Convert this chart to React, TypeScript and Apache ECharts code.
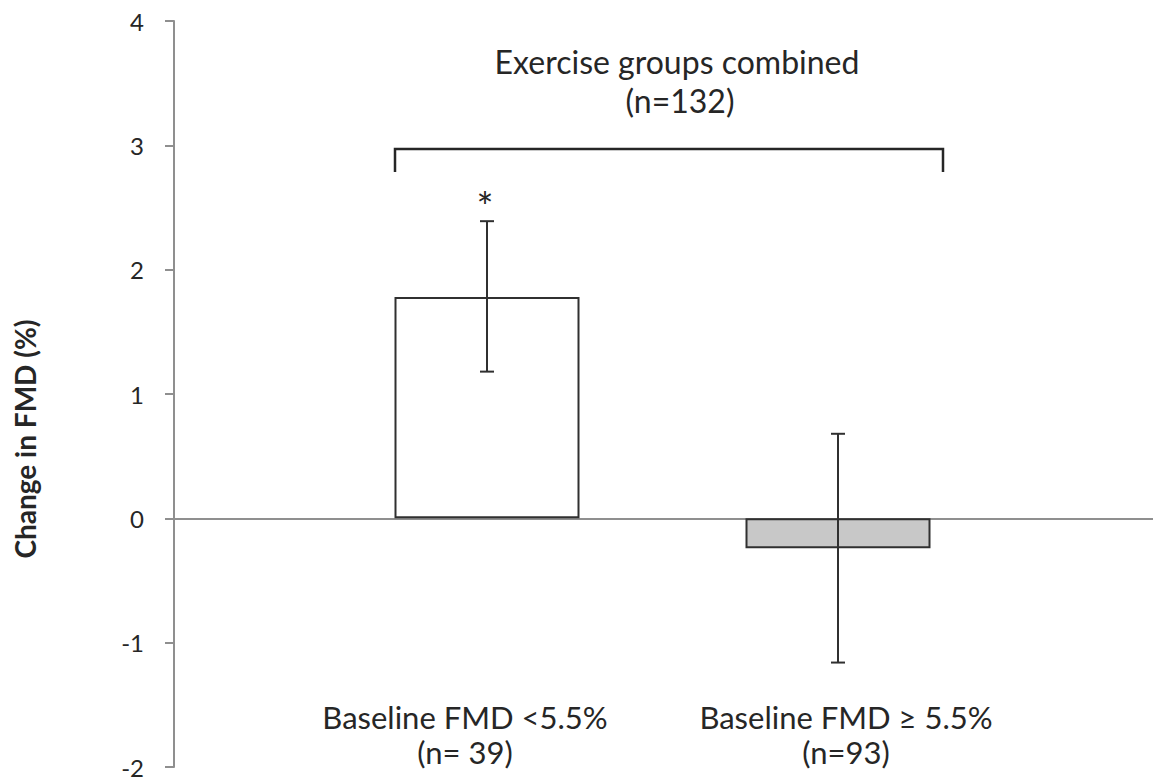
import React, { useEffect, useRef } from "react";
import * as echarts from "echarts";

const categories = ["Baseline FMD <5.5%\n(n= 39)", "Baseline FMD ≥ 5.5%\n(n=93)"];
const meanChange = [1.78, -0.24];
const errLow = [1.18, -1.16];
const errHigh = [2.39, 0.68];
const significance = ["*", ""];
const barFills = ["#ffffff", "#c8c8c8"];
const yMin = -2;
const yMax = 4;
const yInterval = 1;
const yAxisTitle = "Change in FMD (%)";
const groupTitle = "Exercise groups combined";
const groupN = "(n=132)";
const labelShift = [-22, 8];

const FONT = "Lato, 'Open Sans', sans-serif";
const TEXT = "#262626";
const AXIS = "#8f8f8f";

export default function App() {
  const ref = useRef<HTMLDivElement>(null);
  useEffect(() => {
    if (!ref.current) return;
    const chart = echarts.init(ref.current, undefined, { renderer: "svg" });
    const top = 21;
    const bottom = 16;
    const option: any = {
      animation: false,
      backgroundColor: "#ffffff",
      grid: [
        { left: 174, right: 0, top, bottom },
        { left: 311.5, width: 702, top, bottom },
      ],
      xAxis: [
        {
          gridIndex: 0,
          type: "category",
          data: [""],
          axisLine: { show: true, onZero: true, lineStyle: { color: AXIS, width: 2 } },
          axisTick: { show: false },
          axisLabel: { show: false },
        },
        {
          gridIndex: 1,
          type: "category",
          data: categories.map((c, i) => ({
            value: c,
            textStyle: {
              padding: labelShift[i] < 0 ? [0, -2 * labelShift[i], 0, 0] : [0, 0, 0, 2 * labelShift[i]],
            },
          })),
          position: "bottom",
          offset: -68,
          axisLine: { show: false, onZero: false },
          axisTick: { show: false },
          axisLabel: {
            margin: 0,
            interval: 0,
            fontFamily: FONT,
            fontSize: 31,
            lineHeight: 35,
            color: TEXT,
          },
        },
      ],
      yAxis: [
        {
          gridIndex: 0,
          type: "value",
          min: yMin,
          max: yMax,
          interval: yInterval,
          splitLine: { show: false },
          axisLine: { show: true, lineStyle: { color: AXIS, width: 2 } },
          axisTick: { show: true, length: 9, lineStyle: { color: AXIS, width: 2 } },
          axisLabel: { margin: 30, fontFamily: FONT, fontSize: 24, color: TEXT },
        },
        {
          gridIndex: 1,
          type: "value",
          min: yMin,
          max: yMax,
          interval: yInterval,
          show: false,
        },
      ],
      series: [
        {
          type: "bar",
          xAxisIndex: 1,
          yAxisIndex: 1,
          barWidth: 185,
          data: meanChange.map((v, i) => ({
            value: v,
            itemStyle: { color: barFills[i], borderColor: "#303030", borderWidth: 2 },
          })),
          silent: true,
        },
        {
          type: "custom",
          xAxisIndex: 1,
          yAxisIndex: 1,
          data: categories.map((c, i) => [i, errLow[i], errHigh[i]]),
          encode: { x: 0, y: [1, 2] },
          renderItem: (params: any, api: any) => {
            const i = api.value(0);
            const lo = api.coord([i, api.value(1)]);
            const hi = api.coord([i, api.value(2)]);
            const hw = 7;
            const st = { stroke: "#303030", lineWidth: 2 };
            const children: any[] = [
              { type: "line", shape: { x1: hi[0], y1: hi[1], x2: lo[0], y2: lo[1] }, style: st },
              { type: "line", shape: { x1: hi[0] - hw, y1: hi[1], x2: hi[0] + hw, y2: hi[1] }, style: st },
              { type: "line", shape: { x1: lo[0] - hw, y1: lo[1], x2: lo[0] + hw, y2: lo[1] }, style: st },
            ];
            const sig = significance[params.dataIndex];
            if (sig) {
              children.push({
                type: "text",
                style: {
                  x: hi[0] - 2,
                  y: hi[1] - 14,
                  text: sig,
                  fill: TEXT,
                  font: `40px ${FONT}`,
                  textAlign: "center",
                  textVerticalAlign: "middle",
                },
              });
            }
            return { type: "group", children };
          },
          silent: true,
          z: 5,
        },
      ],
      graphic: [
        {
          type: "polyline",
          shape: { points: [[395, 172], [395, 149], [943, 149], [943, 172]] },
          style: { stroke: "#262626", lineWidth: 2.5, fill: null },
        },
        {
          type: "text",
          x: 677,
          y: 61,
          style: {
            text: groupTitle,
            fill: TEXT,
            font: `32px ${FONT}`,
            textAlign: "center",
            textVerticalAlign: "middle",
          },
        },
        {
          type: "text",
          x: 680,
          y: 100,
          style: {
            text: groupN,
            fill: TEXT,
            font: `32px ${FONT}`,
            textAlign: "center",
            textVerticalAlign: "middle",
          },
        },
        {
          type: "text",
          x: 25,
          y: 439,
          rotation: Math.PI / 2,
          style: {
            text: yAxisTitle,
            fill: TEXT,
            font: `bold 28px ${FONT}`,
            textAlign: "center",
            textVerticalAlign: "middle",
          },
        },
      ],
    };
    chart.setOption(option);
    return () => chart.dispose();
  }, []);
  return (
    <div
      ref={ref}
      style={{ position: "absolute", left: 0, top: 0, width: 1153, height: 783 }}
    />
  );
}
